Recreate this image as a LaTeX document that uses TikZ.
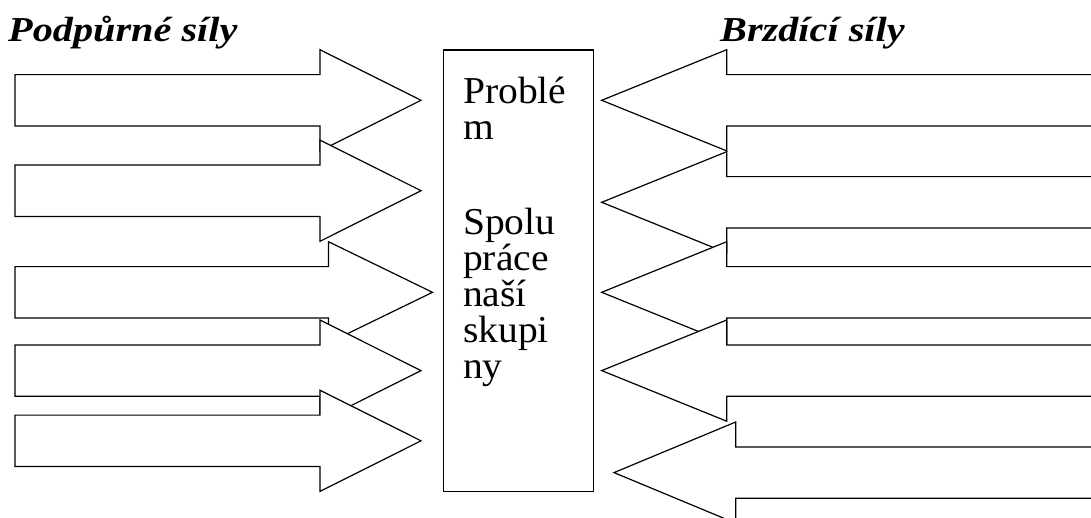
\documentclass[tikz,border=0pt]{standalone}
\usepackage{fontspec}
\setmainfont{Liberation Serif}
% block arrow: #1 tail x, #2 head base x, #3 tip x, #4 centre y
\newcommand{\blockarrow}[4]{%
  \path[blockarrow] (#1,#4-25.7) -- (#2,#4-25.7) -- (#2,#4-50.6) -- (#3,#4)
    -- (#2,#4+50.6) -- (#2,#4+25.7) -- (#1,#4+25.7) -- cycle;}
\begin{document}
\begin{tikzpicture}[x=1pt,y=-1pt,
  blockarrow/.style={draw=black,fill=white,line width=1.2pt,line join=miter},
  problembox/.style={draw=black,line width=1.2pt,minimum width=150pt,minimum height=441.4pt,inner sep=0pt},
  boxtext/.style={anchor=base west,inner sep=0pt,font=\fontsize{38}{38}\selectfont},
  heading/.style={anchor=base west,inner sep=0pt,font=\fontsize{35}{35}\selectfont\bfseries\itshape}]
\useasboundingbox (0,0) rectangle (1091,517);
\begin{scope}
\clip (0,0) rectangle (1091,517);
% supporting forces, pointing right
\blockarrow{15}{320}{421}{100.3}
\blockarrow{15}{320}{421}{190.7}
\blockarrow{15}{328.5}{432.5}{292.3}
\blockarrow{15}{320}{421}{370.6}
\blockarrow{15}{320}{421}{440.8}
% restraining forces, pointing left
\blockarrow{1100}{726.7}{601.7}{100.3}
\blockarrow{1100}{726.7}{601.7}{202.3}
\blockarrow{1100}{726.7}{601.7}{292.3}
\blockarrow{1100}{726.7}{601.7}{370.6}
\blockarrow{1100}{735.7}{614}{472.6}
\end{scope}
% central problem box
\node[problembox,anchor=north west] (problem) at (442.7,49.3) {};
\node[boxtext] (l1) at (463,103) {\scalebox{1.04}[1]{Problé}};
\node[boxtext] (l2) at (463,139) {\scalebox{1.04}[1]{m}};
\node[boxtext] (l3) at (463,234) {\scalebox{1.04}[1]{Spolu}};
\node[boxtext] (l4) at (463,270) {\scalebox{1.04}[1]{práce}};
\node[boxtext] (l5) at (463,306) {\scalebox{1.04}[1]{naší}};
\node[boxtext] (l6) at (463,342) {\scalebox{1.04}[1]{skupi}};
\node[boxtext] (l7) at (463,378) {\scalebox{1.04}[1]{ny}};
% headings
\node[heading] (support) at (8,41.7) {\scalebox{1.15}[1]{Podpůrné síly}};
\node[heading] (restrain) at (720,41.7) {\scalebox{1.15}[1]{Brzdící síly}};
\end{tikzpicture}
\end{document}
